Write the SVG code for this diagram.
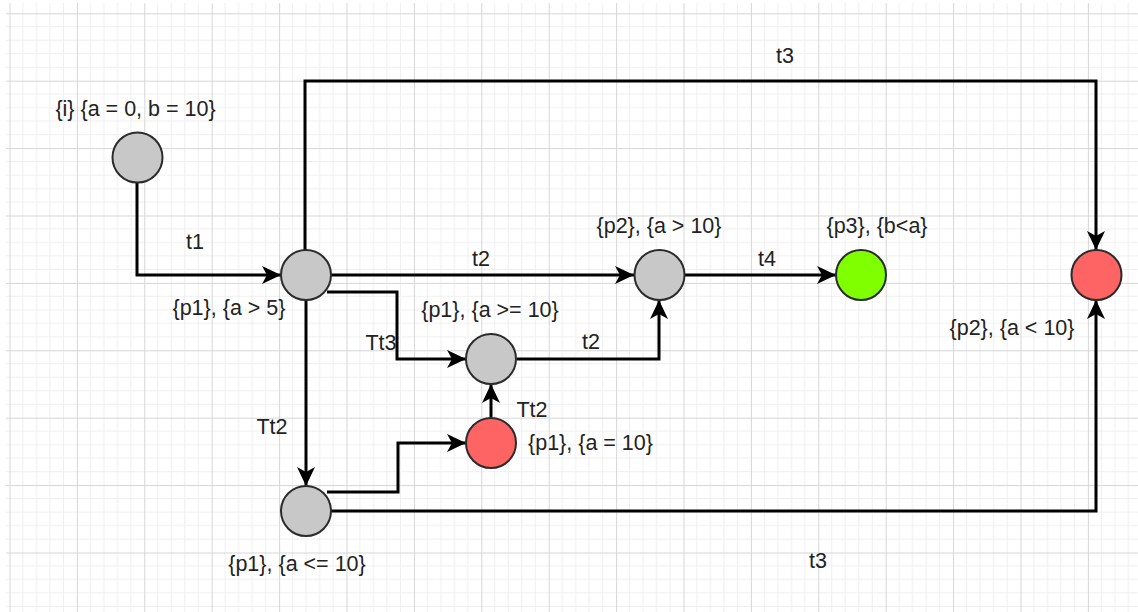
<svg xmlns="http://www.w3.org/2000/svg" width="1138" height="612" viewBox="0 0 1138 612">
<style>
.place{stroke:#2b2b2b;stroke-width:2}
.grey{fill:#c8c8c8}
.red{fill:#ff6464}
.green{fill:#80ff00}
.lbl{font-family:"Liberation Sans",Arial,sans-serif;font-size:21.5px;fill:#222}
.mid{text-anchor:middle}
.edge{fill:none;stroke:#000;stroke-width:3;marker-end:url(#arr)}
</style>
<defs>
<pattern id="grid" patternUnits="userSpaceOnUse" x="9.5" y="13.3" width="67.4" height="67.4">
<path d="M13.48,0V67.4M26.96,0V67.4M40.44,0V67.4M53.92,0V67.4M0,13.48H67.4M0,26.96H67.4M0,40.44H67.4M0,53.92H67.4" stroke="#efefef" stroke-width="1" fill="none"/>
<path d="M0.5,0V67.4M0,0.5H67.4" stroke="#d6d6d6" stroke-width="1" fill="none"/>
</pattern>
<marker id="arr" markerUnits="userSpaceOnUse" markerWidth="20" markerHeight="20" viewBox="0 0 20 20" refX="19" refY="10" orient="auto">
<path d="M0,1 L19,10 L0,19 L5,10 Z" fill="#000"/>
</marker>
</defs>
<rect width="1138" height="612" fill="#fff"/>
<rect x="6" y="3" width="1132" height="609" fill="url(#grid)"/>
<g id="connectors">
<path class="edge" d="M137,183 V275 H281"/>
<path class="edge" d="M305,250 V81 H1096 V250"/>
<path class="edge" d="M331,275 H634"/>
<path class="edge" d="M327,292 H397 V359 H466"/>
<path class="edge" d="M517,359 H659 V300"/>
<path class="edge" d="M685,275 H836"/>
<path class="edge" d="M306,300 V486"/>
<path class="edge" d="M327,492 H398 V443 H466"/>
<path class="edge" d="M491,418 V384"/>
<path class="edge" d="M331,511 H1096 V300"/>
<text class="lbl mid" x="195" y="249">t1</text>
<text class="lbl mid" x="785" y="63">t3</text>
<text class="lbl mid" x="481" y="266">t2</text>
<text class="lbl mid" x="381" y="350">Tt3</text>
<text class="lbl mid" x="591" y="349">t2</text>
<text class="lbl mid" x="767" y="266">t4</text>
<text class="lbl mid" x="272" y="434">Tt2</text>
<text class="lbl mid" x="532" y="417">Tt2</text>
<text class="lbl mid" x="818" y="568">t3</text>
</g>
<g id="place-i">
<circle class="place grey" cx="137.5" cy="157.5" r="25"/>
<text class="lbl mid" x="135.5" y="116">{i} {a = 0, b = 10}</text>
</g>
<g id="place-p1-a5">
<circle class="place grey" cx="306" cy="275" r="25"/>
<text class="lbl mid" x="229" y="315">{p1}, {a &gt; 5}</text>
</g>
<g id="place-p2-a10">
<circle class="place grey" cx="659.5" cy="275" r="25"/>
<text class="lbl mid" x="659" y="233">{p2}, {a &gt; 10}</text>
</g>
<g id="place-p1-age10">
<circle class="place grey" cx="491" cy="359" r="25"/>
<text class="lbl mid" x="490" y="317">{p1}, {a &gt;= 10}</text>
</g>
<g id="place-p3">
<circle class="place green" cx="861" cy="275" r="25"/>
<text class="lbl mid" x="877" y="233">{p3}, {b&lt;a}</text>
</g>
<g id="place-p2-alt10">
<circle class="place red" cx="1096.5" cy="275" r="25"/>
<text class="lbl mid" x="1012" y="335">{p2}, {a &lt; 10}</text>
</g>
<g id="place-p1-aeq10">
<circle class="place red" cx="491" cy="443" r="25"/>
<text class="lbl" x="528" y="450">{p1}, {a = 10}</text>
</g>
<g id="place-p1-ale10">
<circle class="place grey" cx="306" cy="511" r="25"/>
<text class="lbl mid" x="297" y="571">{p1}, {a &lt;= 10}</text>
</g>
</svg>
